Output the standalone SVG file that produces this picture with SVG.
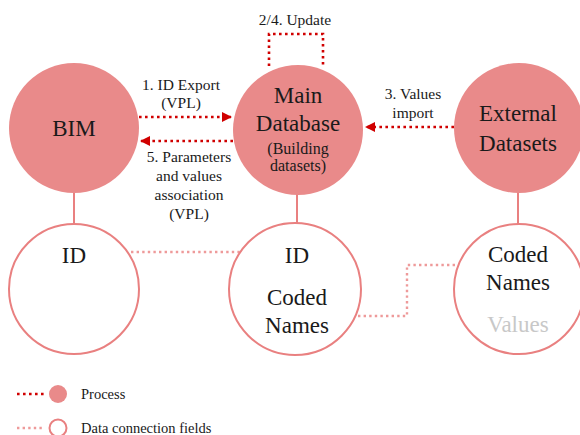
<svg xmlns="http://www.w3.org/2000/svg" width="580" height="435" viewBox="0 0 580 435">
<defs>
<style>
.proc{fill:#E98A8A;stroke:none}
.field{fill:#fff;stroke:#E98080;stroke-width:2}
.stem{stroke:#E98080;stroke-width:2;fill:none}
.flow{stroke:#D00000;stroke-width:2.6;stroke-dasharray:2.6 3.4;fill:none}
.data{stroke:#EE9A9A;stroke-width:2.4;stroke-dasharray:2.4 3.2;fill:none}
text{font-family:"Liberation Serif","Times New Roman",serif;fill:#1a1a1a;text-anchor:middle}
.big{font-size:23px}
.lab{font-size:15.5px}
.mid{font-size:16px}
.leg{font-size:14.5px;text-anchor:start}
</style>
<marker id="ah" viewBox="0 0 10 10" refX="9" refY="5" markerWidth="10" markerHeight="10" markerUnits="userSpaceOnUse" orient="auto">
<path d="M0,0 L10,5 L0,10 Z" fill="#D00000"/>
</marker>
</defs>
<rect width="580" height="435" fill="#fff"/>
<g id="connectors">
<line class="stem" x1="74" y1="192" x2="74" y2="224"/>
<line class="stem" x1="297" y1="194" x2="297" y2="224"/>
<line class="stem" x1="518" y1="192" x2="518" y2="224"/>
<path class="flow" d="M269,66 V34 H323 V66"/>
<line class="flow" x1="139" y1="117" x2="231" y2="117" marker-end="url(#ah)"/>
<line class="flow" x1="233" y1="141" x2="141" y2="141" marker-end="url(#ah)"/>
<line class="flow" x1="454" y1="127" x2="366" y2="127" marker-end="url(#ah)"/>
<line class="data" x1="131" y1="252" x2="243" y2="252"/>
<path class="data" d="M358,316 H407 V265 H455"/>
</g>
<g id="bim"><circle class="proc" cx="74" cy="128" r="65"/><text class="big" x="74" y="136">BIM</text></g>
<g id="main-db"><circle class="proc" cx="298" cy="130" r="65"/>
<text class="big" x="298" y="103">Main</text><text class="big" x="298" y="131">Database</text>
<text class="mid" x="298" y="154">(Building</text><text class="mid" x="298" y="171">datasets)</text></g>
<g id="external"><circle class="proc" cx="519" cy="128" r="65"/>
<text class="big" x="518" y="121">External</text><text class="big" x="518" y="151">Datasets</text></g>
<g id="bim-fields"><circle class="field" cx="74" cy="289" r="65"/><text class="big" x="74" y="263">ID</text></g>
<g id="db-fields"><circle class="field" cx="295" cy="289" r="66"/>
<text class="big" x="297" y="263">ID</text><text class="big" x="297" y="305">Coded</text><text class="big" x="297" y="333">Names</text></g>
<g id="ext-fields"><circle class="field" cx="519" cy="289" r="65"/>
<text class="big" x="518" y="262">Coded</text><text class="big" x="518" y="290">Names</text><text class="big" x="518" y="332" style="fill:#c8c8c8">Values</text></g>
<g id="labels">
<text class="lab" x="295" y="25">2/4. Update</text>
<text class="lab" x="181" y="90">1. ID Export</text><text class="lab" x="181" y="108">(VPL)</text>
<text class="lab" x="189" y="162">5. Parameters</text><text class="lab" x="189" y="181">and values</text>
<text class="lab" x="189" y="200">association</text><text class="lab" x="189" y="219">(VPL)</text>
<text class="lab" x="413" y="99">3. Values</text><text class="lab" x="413" y="118">import</text>
</g>
<g id="legend">
<line class="flow" x1="17" y1="394" x2="45" y2="394"/>
<circle class="proc" cx="58" cy="394" r="9"/>
<text class="leg" x="81" y="399">Process</text>
<line class="data" x1="17" y1="428" x2="45" y2="428"/>
<circle class="field" cx="58" cy="428" r="8.5"/>
<text class="leg" x="81" y="433">Data connection fields</text>
</g>
</svg>
